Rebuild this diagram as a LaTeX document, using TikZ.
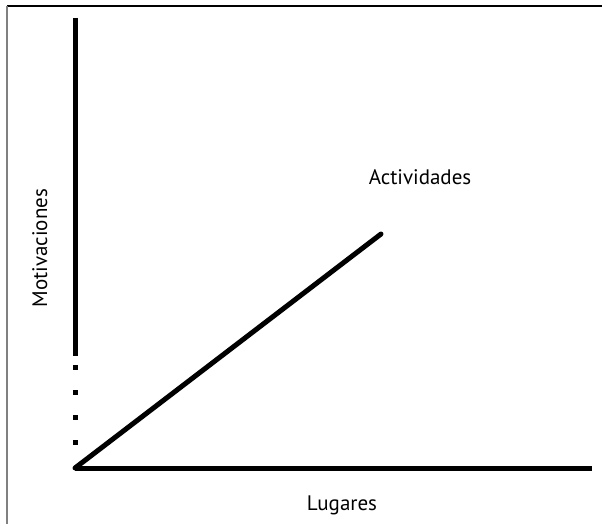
\documentclass[tikz,border=0pt]{standalone}
\usepackage{fontspec}
\setmainfont{PT Sans}
\begin{document}
\begin{tikzpicture}[x=1pt,y=-1pt,
  axis/.style={line width=5pt},
  lbl/.style={font=\fontsize{21}{24}\selectfont, inner sep=0pt}]
\useasboundingbox (0,0) rectangle (603,524);
\fill[white] (0,0) rectangle (603,524);
\draw[line width=1.5pt] (7,6) -- (602,6);
\draw[line width=1.5pt, gray] (7,6) -- (7,524);
\coordinate (o) at (75,468);
\coordinate (top) at (75,18);
\coordinate (vs) at (75,356);
\coordinate (right) at (592,468);
\coordinate (act) at (381,234);
\draw[axis] (top) -- (vs);
\draw[line width=5pt, dash pattern=on 5pt off 20pt] (75,365) -- (75,450);
\draw[axis] (o) -- (right);
\draw[axis, line cap=round] (o) -- (act);
\node[lbl, anchor=base] (actl) at (420,185) {Actividades};
\node[lbl, rotate=90, anchor=base] (mot) at (47,248) {Motivaciones};
\node[lbl, anchor=base] (lug) at (342,510) {Lugares};
\end{tikzpicture}
\end{document}
